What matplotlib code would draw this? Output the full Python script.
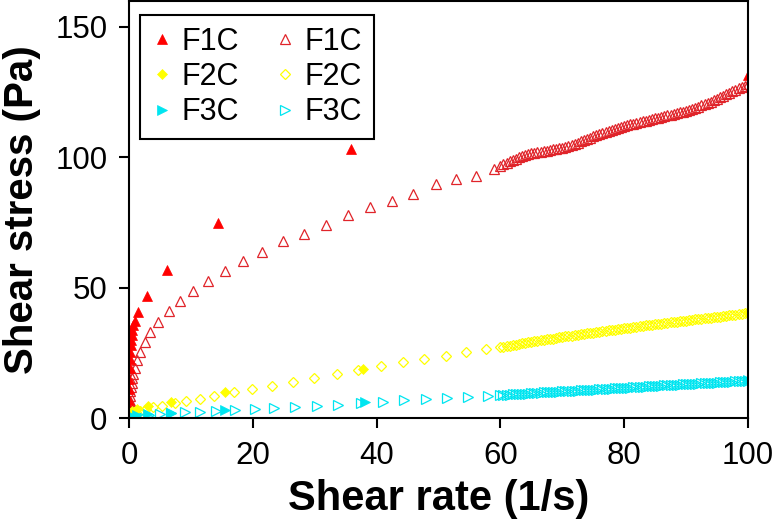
import numpy as np
import matplotlib
matplotlib.use("Agg")
import matplotlib.pyplot as plt

plt.rcParams['font.family'] = ['Liberation Sans', 'DejaVu Sans']

# ---------------- data ----------------
# F1C filled (up-curve)
f1c_fill_x = [0.01, 0.02, 0.04, 0.06, 0.09, 0.13, 0.18, 0.25, 0.33, 0.43, 0.55, 0.7, 0.9,
              1.45, 2.9, 6.1, 14.4, 35.9, 100]
f1c_fill_y = [4, 7, 11, 15, 19, 22.5, 25.5, 28, 30, 32, 33.8, 35.5, 37.2,
              40.7, 46.8, 56.8, 74.8, 103.2, 131.6]

# F1C open
f1c_open_x_sparse = [0.04, 0.08, 0.12, 0.17, 0.23, 0.3, 0.4, 0.52, 0.7, 0.95, 1.35, 1.8, 2.55,
                     3.4, 4.7, 6.5, 8.2, 10.3, 12.8, 15.5, 18.4, 21.5, 24.8, 28.2, 31.8, 35.4,
                     38.9, 42.5, 45.9, 49.6, 52.8, 56.0, 59.0]
f1c_open_y_sparse = [2.5, 4.5, 6.5, 8.5, 10.3, 12, 13.6, 15.2, 17, 19, 22.2, 25.3, 29.2,
                     33, 36.9, 41, 44.9, 48.7, 52.6, 56.4, 60.2, 63.8, 67.8, 70.6, 73.9, 77.9,
                     80.8, 83.1, 85.9, 89.6, 91.7, 92.7, 95.4]
dense_x = [60 + 0.5 * i for i in range(81)]
f1c_open_y_dense = [96.7, 97.3, 97.9, 98.5, 99.0, 99.5, 100.0, 100.5, 100.9, 101.2, 101.5, 101.8,
                    102.0, 102.2, 102.4, 102.6, 102.8, 103.0, 103.2, 103.4, 103.6, 104.0, 104.3,
                    104.7, 105.1, 105.6, 106.1, 106.5, 107.0, 107.5, 108.0, 108.5, 108.9, 109.3,
                    109.7, 110.0, 110.4, 110.8, 111.2, 111.6, 112.0, 112.3, 112.6, 112.9, 113.2,
                    113.5, 113.8, 114.0, 114.3, 114.6, 114.9, 115.2, 115.5, 115.8, 116.1, 116.3,
                    116.6, 116.9, 117.2, 117.5, 117.8, 118.2, 118.6, 119.0, 119.4, 119.9, 120.3,
                    120.8, 121.3, 121.9, 122.5, 123.1, 123.7, 124.2, 124.7, 125.3, 125.8, 126.4,
                    126.9, 127.5, 128.0]

# F2C filled
f2c_fill_x = [0.05, 0.15, 0.4, 1.3, 3.1, 6.8, 15.5, 37.8, 100]
f2c_fill_y = [1.2, 1.8, 2.6, 3.6, 4.6, 6.1, 10, 18.8, 40.5]

# F2C open
f2c_open_x_sparse = [0.2, 0.6, 1.1, 1.8, 2.7, 3.9, 5.3, 7.4, 9.2, 11.5, 13.8, 17.0, 19.9, 23.1,
                     26.5, 29.9, 33.6, 37.0, 40.7, 44.3, 47.7, 51.2, 54.4, 57.7]
f2c_open_y_sparse = [1.0, 1.6, 2.2, 2.8, 3.4, 4.1, 4.8, 5.8, 6.5, 7.3, 8.4, 9.9, 11.1, 12.3,
                     13.8, 15.3, 16.9, 18.4, 19.9, 21.5, 22.6, 23.8, 25.3, 26.5]
f2c_open_y_dense = [27.2, 27.4, 27.6, 27.8, 28.0, 28.2, 28.4, 28.6, 28.8, 29.0, 29.2, 29.4, 29.6,
                    29.8, 30.0, 30.2, 30.4, 30.5, 30.7, 30.9, 31.1, 31.3, 31.4, 31.6, 31.8, 31.9,
                    32.1, 32.3, 32.5, 32.6, 32.8, 33.0, 33.1, 33.3, 33.5, 33.6, 33.8, 33.9, 34.1,
                    34.3, 34.4, 34.6, 34.7, 34.9, 35.0, 35.2, 35.3, 35.5, 35.6, 35.8, 35.9, 36.1,
                    36.2, 36.4, 36.5, 36.7, 36.8, 37.0, 37.1, 37.3, 37.4, 37.5, 37.7, 37.8, 38.0,
                    38.1, 38.2, 38.4, 38.5, 38.7, 38.8, 38.9, 39.1, 39.2, 39.4, 39.5, 39.6, 39.8,
                    39.9, 40.1, 40.2]

# F3C filled
f3c_fill_x = [0.05, 0.15, 0.4, 1.3, 3.1, 6.8, 15.5, 38.1, 100]
f3c_fill_y = [0.4, 0.6, 0.8, 1.1, 1.5, 2.0, 3.1, 6.1, 14.5]

# F3C open
f3c_open_x_sparse = [0.3, 0.9, 2.0, 3.3, 5.0, 6.8, 9.0, 11.4, 14.1, 17.1, 20.3, 23.4, 26.8,
                     30.4, 33.8, 37.5, 41.0, 44.5, 48.0, 51.4, 54.8, 58.0]
f3c_open_y_sparse = [0.7, 0.8, 0.9, 1.2, 1.4, 1.8, 2.2, 2.4, 2.8, 3.1, 3.3, 3.7, 4.1,
                     4.6, 5.1, 5.9, 6.3, 6.9, 7.2, 7.6, 7.9, 8.4]
f3c_open_y_dense = [8.8, 8.9, 8.9, 9.0, 9.1, 9.2, 9.2, 9.3, 9.4, 9.4, 9.5, 9.6, 9.6, 9.7, 9.8,
                    9.8, 9.9, 10.0, 10.0, 10.1, 10.2, 10.3, 10.3, 10.4, 10.5, 10.5, 10.6, 10.7,
                    10.7, 10.8, 10.9, 10.9, 11.0, 11.1, 11.2, 11.2, 11.3, 11.4, 11.4, 11.5, 11.6,
                    11.6, 11.7, 11.8, 11.8, 11.9, 12.0, 12.0, 12.1, 12.2, 12.3, 12.3, 12.4, 12.5,
                    12.5, 12.6, 12.7, 12.7, 12.8, 12.9, 12.9, 13.0, 13.1, 13.2, 13.2, 13.3, 13.4,
                    13.4, 13.5, 13.6, 13.6, 13.7, 13.8, 13.8, 13.9, 14.0, 14.1, 14.1, 14.2, 14.3,
                    14.3]

labels = ["F1C", "F2C", "F3C"]
x_ticks = [0, 20, 40, 60, 80, 100]
y_ticks = [0, 50, 100, 150]

# ---------------- styling ----------------
RED_F = '#FF0000'
RED_O = '#E0242A'
YEL = '#FFFF00'
CYA = '#00E5F0'

fig = plt.figure(figsize=(7.75, 5.28), dpi=100)
ax = fig.add_axes([0.1665, 0.2083, 0.7985, 0.790])

ms_tri_o = 7.5
ms_tri_f = 7.5
ms_dia = 5.2
mew = 0.9

h_o1, = ax.plot(f1c_open_x_sparse + dense_x, f1c_open_y_sparse + f1c_open_y_dense, ls='none',
                marker='^', ms=ms_tri_o, mfc='none', mec=RED_O, mew=mew, label=labels[0])
h_o2, = ax.plot(f2c_open_x_sparse + dense_x, f2c_open_y_sparse + f2c_open_y_dense, ls='none',
                marker='D', ms=ms_dia, mfc='none', mec=YEL, mew=mew, label=labels[1])
h_o3, = ax.plot(f3c_open_x_sparse + dense_x, f3c_open_y_sparse + f3c_open_y_dense, ls='none',
                marker='>', ms=ms_tri_o, mfc='none', mec=CYA, mew=mew, label=labels[2])

h_f1, = ax.plot(f1c_fill_x, f1c_fill_y, ls='none', marker='^', ms=ms_tri_f,
                mfc=RED_F, mec=RED_F, mew=0.5, label=labels[0])
h_f2, = ax.plot(f2c_fill_x, f2c_fill_y, ls='none', marker='D', ms=ms_dia,
                mfc=YEL, mec=YEL, mew=0.5, label=labels[1])
h_f3, = ax.plot(f3c_fill_x, f3c_fill_y, ls='none', marker='>', ms=ms_tri_f,
                mfc=CYA, mec=CYA, mew=0.5, label=labels[2])

ax.set_xlim(0, 100)
ax.set_ylim(0, 160)
ax.set_xticks(x_ticks)
ax.set_yticks(y_ticks)
ax.tick_params(direction='out', length=7.5, width=1.5, labelsize=22.5,
               top=False, right=False)
ax.tick_params(axis='x', pad=9)
ax.tick_params(axis='y', pad=8)
for s in ax.spines.values():
    s.set_linewidth(1.5)
    s.set_color('black')

ax.set_xlabel("Shear rate (1/s)", fontsize=30, fontweight='bold', labelpad=6)
ax.set_ylabel("Shear stress (Pa)", fontsize=29, fontweight='bold', labelpad=10)

leg = ax.legend(handles=[h_f1, h_f2, h_f3, h_o1, h_o2, h_o3],
                labels=labels + labels, ncol=2, loc='upper left',
                bbox_to_anchor=(0.018, 0.967), borderaxespad=0, fontsize=22,
                frameon=True, fancybox=False, edgecolor='black', framealpha=1,
                handlelength=0.6, handletextpad=0.35, columnspacing=1.2,
                labelspacing=0.17, borderpad=0.4, markerscale=1.0)
leg.get_frame().set_linewidth(1.5)

fig.savefig("out.png", dpi=100)
